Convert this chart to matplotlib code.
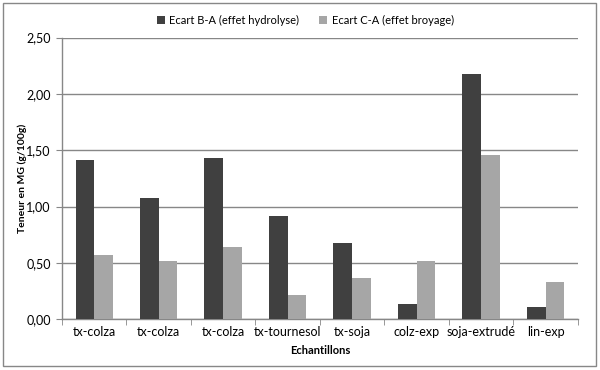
import numpy as np
import matplotlib
matplotlib.use("Agg")
import matplotlib.pyplot as plt
from matplotlib.patches import Rectangle
from matplotlib.ticker import FuncFormatter, MultipleLocator

plt.rcParams["font.family"] = ["Lato", "DejaVu Sans"]

categories = ["tx-colza", "tx-colza", "tx-colza", "tx-tournesol", "tx-soja",
              "colz-exp", "soja-extrudé", "lin-exp"]
ecart_ba = [1.41, 1.08, 1.43, 0.92, 0.68, 0.14, 2.18, 0.11]
ecart_ca = [0.57, 0.52, 0.64, 0.22, 0.37, 0.52, 1.46, 0.33]
series_labels = ["Ecart B-A (effet hydrolyse)", "Ecart C-A (effet broyage)"]

dark = "#404040"
light = "#a6a6a6"
grid_col = "#878787"

fig = plt.figure(figsize=(6, 3.7), dpi=100)
ax = fig.add_axes([0.1033, 0.137, 0.8597, 0.7616])

x = np.arange(len(categories))
w = 0.29
ax.bar(x - w / 2, ecart_ba, w, color=dark, label=series_labels[0], zorder=3)
ax.bar(x + w / 2, ecart_ca, w, color=light, label=series_labels[1], zorder=3)

ax.set_xlim(-0.5, len(categories) - 0.5)
ax.set_ylim(0, 2.5)
ax.yaxis.set_major_locator(MultipleLocator(0.5))
ax.yaxis.set_major_formatter(FuncFormatter(lambda v, p: f"{v:.2f}".replace(".", ",")))
ax.grid(axis="y", color=grid_col, linewidth=1, zorder=0)

ax.set_xticks(x)
ax.set_xticklabels(categories)
ax.set_xticks(np.arange(len(categories) + 1) - 0.5, minor=True)
ax.tick_params(axis="x", which="major", length=0, labelsize=9, pad=4.5, colors="#000000")
ax.tick_params(axis="x", which="minor", length=4, color=grid_col, direction="out")
ax.tick_params(axis="y", length=4, color=grid_col, labelsize=9, pad=4)

for s in ["top", "right"]:
    ax.spines[s].set_visible(False)
for s in ["left", "bottom"]:
    ax.spines[s].set_color(grid_col)
    ax.spines[s].set_linewidth(1)

ax.set_ylabel("Teneur en MG (g/100g)", fontsize=7.5, fontweight="bold", va="center")
ax.yaxis.set_label_coords(-0.077, 0.5)
ax.set_xlabel("Echantillons", fontsize=8, fontweight="bold", va="center")
ax.xaxis.set_label_coords(0.5, -0.112)

ax.legend(loc="lower center", bbox_to_anchor=(0.472, 1.005), ncol=2, frameon=False,
          fontsize=8, handlelength=0.7, handleheight=0.7, handletextpad=0.4,
          columnspacing=1.8)

fig.patches.append(Rectangle((3 / 600, 4 / 370), 593 / 600, 363 / 370,
                             transform=fig.transFigure, fill=False,
                             edgecolor=grid_col, linewidth=1))

fig.savefig("out.png", dpi=100)
